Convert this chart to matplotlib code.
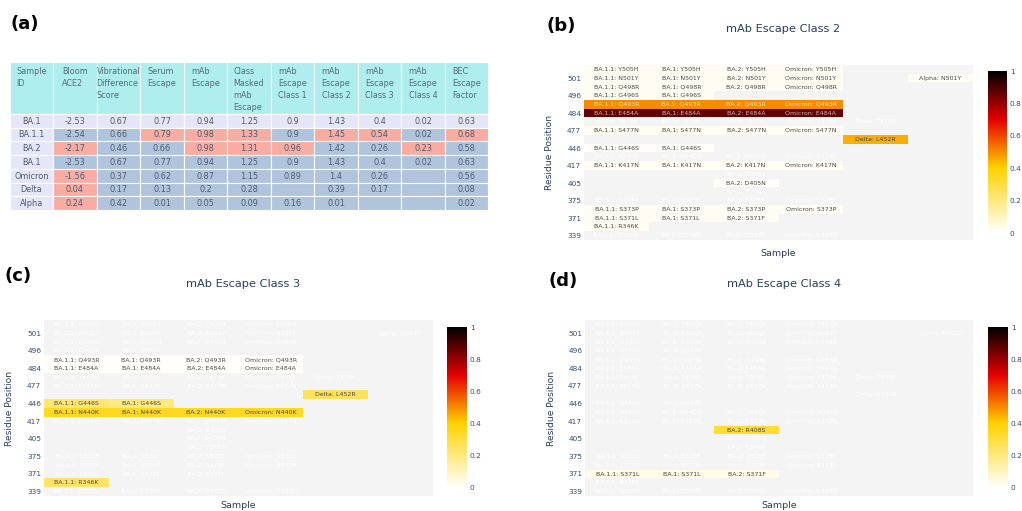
import numpy as np
import matplotlib
matplotlib.use('Agg')
import matplotlib.pyplot as plt
from matplotlib.colors import LinearSegmentedColormap
from matplotlib.patches import Rectangle

plt.rcParams['font.family'] = ['DejaVu Sans']

W, H, DPI = 1022, 511, 100

# ---------------- table data (panel a) ----------------
table_headers = ['Sample\nID', 'Bloom\nACE2', 'Vibrational\nDifference\nScore', 'Serum\nEscape',
                 'mAb\nEscape', 'Class\nMasked\nmAb\nEscape', 'mAb\nEscape\nClass 1',
                 'mAb\nEscape\nClass 2', 'mAb\nEscape\nClass 3', 'mAb\nEscape\nClass 4',
                 'BEC\nEscape\nFactor']
table_samples = ['BA.1', 'BA.1.1', 'BA.2', 'BA.1', 'Omicron', 'Delta', 'Alpha']
bloom_ace2 = [-2.53, -2.54, -2.17, -2.53, -1.56, 0.04, 0.24]
vib_score = [0.67, 0.66, 0.46, 0.67, 0.37, 0.17, 0.42]
serum_escape = [0.77, 0.79, 0.66, 0.77, 0.62, 0.13, 0.01]
mab_escape = [0.94, 0.98, 0.98, 0.94, 0.87, 0.2, 0.05]
class_masked = [1.25, 1.33, 1.31, 1.25, 1.15, 0.28, 0.09]
mab_class1 = [0.9, 0.9, 0.96, 0.9, 0.89, None, 0.16]
mab_class2 = [1.43, 1.45, 1.42, 1.43, 1.4, 0.39, 0.01]
mab_class3 = [0.4, 0.54, 0.26, 0.4, 0.26, 0.17, None]
mab_class4 = [0.02, 0.02, 0.23, 0.02, None, None, None]
bec_factor = [0.63, 0.68, 0.58, 0.63, 0.56, 0.08, 0.02]
# highlighted (row index, column index) cells
highlighted = [(1, 3), (1, 4), (1, 5), (1, 7), (1, 8), (1, 10),
               (2, 1), (2, 4), (2, 5), (2, 6), (2, 9),
               (4, 1), (5, 1), (6, 1)]

# ---------------- heatmap data (panels b-d) ----------------
samples = ['BA.1.1', 'BA.1', 'BA.2', 'Omicron', 'Delta', 'Alpha']
positions = [339, 346, 371, 373, 375, 376, 405, 408, 417, 440, 446, 452,
             477, 478, 484, 493, 496, 498, 501, 505]
mutations = {
    'BA.1.1': ['G339D', 'R346K', 'S371L', 'S373P', 'S375F', 'K417N', 'N440K', 'G446S',
               'S477N', 'T478K', 'E484A', 'Q493R', 'G496S', 'Q498R', 'N501Y', 'Y505H'],
    'BA.1': ['G339D', 'S371L', 'S373P', 'S375F', 'K417N', 'N440K', 'G446S',
             'S477N', 'T478K', 'E484A', 'Q493R', 'G496S', 'Q498R', 'N501Y', 'Y505H'],
    'BA.2': ['G339D', 'S371F', 'S373P', 'S375F', 'T376A', 'D405N', 'R408S', 'K417N', 'N440K',
             'S477N', 'T478K', 'E484A', 'Q493R', 'Q498R', 'N501Y', 'Y505H'],
    'Omicron': ['G339D', 'S373P', 'S375F', 'K417N', 'N440K', 'S477N', 'T478K', 'E484A',
                'Q493R', 'Q498R', 'N501Y', 'Y505H'],
    'Delta': ['L452R', 'T478K'],
    'Alpha': ['N501Y'],
}
class2_cells = [
    ('BA.1.1', 'Y505H', 0.02), ('BA.1.1', 'N501Y', 0.02), ('BA.1.1', 'Q498R', 0.02),
    ('BA.1.1', 'G496S', 0.02), ('BA.1.1', 'Q493R', 0.5), ('BA.1.1', 'E484A', 0.87),
    ('BA.1.1', 'S477N', 0.02), ('BA.1.1', 'G446S', 0.01), ('BA.1.1', 'K417N', 0.02),
    ('BA.1.1', 'S373P', 0.02), ('BA.1.1', 'S371L', 0.02), ('BA.1.1', 'R346K', 0.02),
    ('BA.1', 'Y505H', 0.02), ('BA.1', 'N501Y', 0.02), ('BA.1', 'Q498R', 0.02),
    ('BA.1', 'G496S', 0.02), ('BA.1', 'Q493R', 0.5), ('BA.1', 'E484A', 0.87),
    ('BA.1', 'S477N', 0.02), ('BA.1', 'G446S', 0.01), ('BA.1', 'K417N', 0.02),
    ('BA.1', 'S373P', 0.02), ('BA.1', 'S371L', 0.02),
    ('BA.2', 'Y505H', 0.02), ('BA.2', 'N501Y', 0.02), ('BA.2', 'Q498R', 0.02),
    ('BA.2', 'Q493R', 0.5), ('BA.2', 'E484A', 0.87), ('BA.2', 'S477N', 0.02),
    ('BA.2', 'K417N', 0.02), ('BA.2', 'D405N', 0.01), ('BA.2', 'S373P', 0.02),
    ('BA.2', 'S371F', 0.02),
    ('Omicron', 'Y505H', 0.02), ('Omicron', 'N501Y', 0.02), ('Omicron', 'Q498R', 0.02),
    ('Omicron', 'Q493R', 0.5), ('Omicron', 'E484A', 0.87), ('Omicron', 'S477N', 0.02),
    ('Omicron', 'K417N', 0.02), ('Omicron', 'S373P', 0.02),
    ('Delta', 'L452R', 0.45),
    ('Alpha', 'N501Y', 0.02),
]
class3_cells = [
    ('BA.1.1', 'Q493R', 0.01), ('BA.1.1', 'E484A', 0.01), ('BA.1.1', 'G446S', 0.22),
    ('BA.1.1', 'N440K', 0.35), ('BA.1.1', 'R346K', 0.24),
    ('BA.1', 'Q493R', 0.01), ('BA.1', 'E484A', 0.01), ('BA.1', 'G446S', 0.2),
    ('BA.1', 'N440K', 0.35),
    ('BA.2', 'Q493R', 0.01), ('BA.2', 'E484A', 0.01), ('BA.2', 'N440K', 0.35),
    ('Omicron', 'Q493R', 0.01), ('Omicron', 'E484A', 0.01), ('Omicron', 'N440K', 0.35),
    ('Delta', 'L452R', 0.26),
]
class4_cells = [
    ('BA.1.1', 'S371L', 0.04), ('BA.1', 'S371L', 0.04),
    ('BA.2', 'S371F', 0.04), ('BA.2', 'R408S', 0.32),
]

# ---------------- figure ----------------
fig = plt.figure(figsize=(W / DPI, H / DPI), dpi=DPI)
over = fig.add_axes([0, 0, 1, 1])
over.set_xlim(0, W)
over.set_ylim(H, 0)
over.axis('off')

# ---- panel (a): table ----
col_edges = [10, 53, 97, 140, 184, 227, 271, 314, 358, 401, 445, 488]
head_top, head_bot, tab_bot = 62, 114, 210
row_h = (tab_bot - head_bot) / len(table_samples)
hdr_color = '#aeeeee'
lav = '#e6e6fa'
lsb = '#b0c4de'
salmon = '#f8aca2'
txt_c = '#4e5b6e'
table_cols = [table_samples, bloom_ace2, vib_score, serum_escape, mab_escape, class_masked,
              mab_class1, mab_class2, mab_class3, mab_class4, bec_factor]

for c in range(len(table_headers)):
    x0, x1 = col_edges[c], col_edges[c + 1]
    over.add_patch(Rectangle((x0, head_top), x1 - x0, head_bot - head_top,
                             facecolor=hdr_color, edgecolor='white', lw=0.8))
    over.text((x0 + x1) / 2, head_top + 5, table_headers[c], ha='center', va='top',
              multialignment='left', fontsize=5.8, color='#5b6878', linespacing=1.42)
    for r in range(len(table_samples)):
        y0 = head_bot + r * row_h
        if c == 0 or r == 0:
            fc = lav
        elif (r, c) in highlighted:
            fc = salmon
        else:
            fc = lsb
        over.add_patch(Rectangle((x0, y0), x1 - x0, row_h, facecolor=fc,
                                 edgecolor='white', lw=0.8))
        v = table_cols[c][r]
        if v is None:
            continue
        s = v if isinstance(v, str) else f"{v:g}"
        over.text((x0 + x1) / 2, y0 + row_h / 2 + 0.3, s, ha='center', va='center',
                  fontsize=5.9, color=txt_c)

# ---- heatmaps ----
cmap = LinearSegmentedColormap.from_list(
    'hot_r_plotly', [(0, (1, 1, 1)), (0.4, (1, 210 / 255, 0)), (0.7, (230 / 255, 0, 0)), (1, (0, 0, 0))])

title_c = '#2a3f5f'


def px_rect(x0, y0, x1, y1):
    return [x0 / W, 1 - y1 / H, (x1 - x0) / W, (y1 - y0) / H]


def heatmap(cells, title, plot_px, cbar_px, label, label_xy, xlab_dy):
    x0, y0, x1, y1 = plot_px
    ax = fig.add_axes(px_rect(x0, y0, x1, y1))
    Z = np.full((len(positions), len(samples)), np.nan)
    for s, m, v in cells:
        Z[positions.index(int(m[1:-1])), samples.index(s)] = v
    ax.set_facecolor('#f4f4f4')
    mesh = ax.pcolormesh(np.arange(len(samples) + 1), np.arange(len(positions) + 1),
                         np.ma.masked_invalid(Z), cmap=cmap, vmin=0, vmax=1)
    ax.set_xlim(0, len(samples))
    ax.set_ylim(0, len(positions))
    for sp in ax.spines.values():
        sp.set_visible(False)
    ax.set_xticks([])
    ax.set_yticks(np.arange(0, len(positions), 2) + 0.5)
    ax.set_yticklabels([str(p) for p in positions[::2]])
    ax.tick_params(axis='y', length=0, pad=2, labelsize=5.3, labelcolor='#3b4c6b')
    for j, s in enumerate(samples):
        for m in mutations[s]:
            i = positions.index(int(m[1:-1]))
            v = Z[i, j]
            if np.isnan(v):
                col = (1, 1, 1, 0.9)
            elif v >= 0.48:
                col = (1, 1, 1, 0.7)
            else:
                col = '#4a4a4a'
            ax.text(j + 0.5, i + 0.5, f"{s}: {m}", ha='center', va='center',
                    fontsize=4.5, color=col)
    cax = fig.add_axes(px_rect(*cbar_px))
    cb = fig.colorbar(mesh, cax=cax)
    cb.outline.set_visible(False)
    cb.set_ticks([0, 0.2, 0.4, 0.6, 0.8, 1])
    cb.set_ticklabels(['0', '0.2', '0.4', '0.6', '0.8', '1'])
    cb.ax.tick_params(length=0, pad=2, labelsize=5.3, labelcolor='#3b4c6b')
    cx = (x0 + x1) / 2
    cy = (y0 + y1) / 2
    over.text(cx + 5, y0 - 36, title, ha='center', va='center', fontsize=8.2, color=title_c)
    over.text(cx, y1 + xlab_dy, 'Sample', ha='center', va='center', fontsize=6.8, color=title_c)
    over.text(x0 - 34, cy, 'Residue Position', ha='center', va='center', rotation=90,
              fontsize=6.6, color=title_c)
    over.text(label_xy[0], label_xy[1], label, ha='left', va='center', fontsize=13,
              fontweight='bold', color='black')


over.text(11, 24, '(a)', ha='left', va='center', fontsize=13, fontweight='bold', color='black')
heatmap(class2_cells, 'mAb Escape Class 2', (584, 65, 973, 240), (988, 71, 1007, 233), '(b)', (546, 26), 13)
heatmap(class3_cells, 'mAb Escape Class 3', (44, 320, 433, 496), (447, 327, 467, 488), '(c)', (5, 276), 9)
heatmap(class4_cells, 'mAb Escape Class 4', (585, 320, 973, 496), (988, 327, 1008, 488), '(d)', (548, 281), 9)

fig.savefig('out.png', dpi=DPI)
